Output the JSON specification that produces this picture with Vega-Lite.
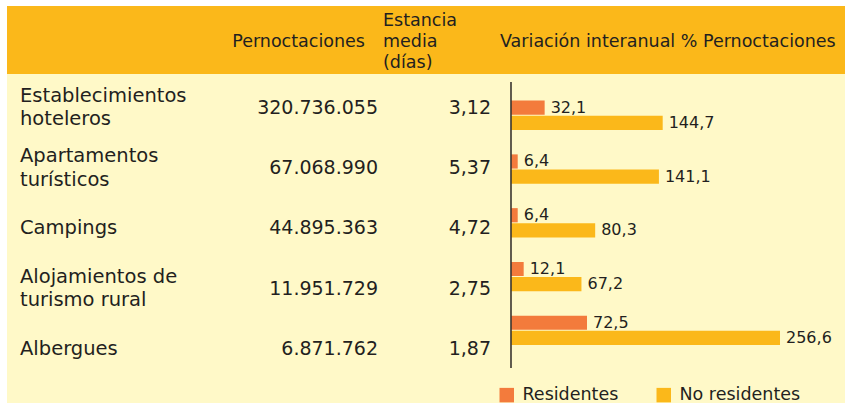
{
  "$schema": "https://vega.github.io/schema/vega-lite/v6.json",
  "background": "white",
  "padding": {"left": 7, "top": 6, "right": 0, "bottom": 0},
  "spacing": 0,
  "resolve": {"legend": {"color": "independent"}},
  "config": {
    "view": {"stroke": null},
    "font": "DejaVu Sans",
    "text": {"font": "DejaVu Sans", "color": "#231f20"},
    "locale": {"number": {"decimal": ",", "thousands": ".", "grouping": [3], "currency": ["", " €"]}},
    "concat": {"spacing": 0}
  },
  "datasets": {
    "tipos": [
      {"tipo": "Establecimientos\nhoteleros", "pernoctaciones": 320736055, "estancia": 3.12},
      {"tipo": "Apartamentos\nturísticos", "pernoctaciones": 67068990, "estancia": 5.37},
      {"tipo": "Campings", "pernoctaciones": 44895363, "estancia": 4.72},
      {"tipo": "Alojamientos de\nturismo rural", "pernoctaciones": 11951729, "estancia": 2.75},
      {"tipo": "Albergues", "pernoctaciones": 6871762, "estancia": 1.87}
    ],
    "variacion": [
      {"tipo": "Establecimientos\nhoteleros", "serie": "Residentes", "variacion": 32.1},
      {"tipo": "Establecimientos\nhoteleros", "serie": "No residentes", "variacion": 144.7},
      {"tipo": "Apartamentos\nturísticos", "serie": "Residentes", "variacion": 6.4},
      {"tipo": "Apartamentos\nturísticos", "serie": "No residentes", "variacion": 141.1},
      {"tipo": "Campings", "serie": "Residentes", "variacion": 6.4},
      {"tipo": "Campings", "serie": "No residentes", "variacion": 80.3},
      {"tipo": "Alojamientos de\nturismo rural", "serie": "Residentes", "variacion": 12.1},
      {"tipo": "Alojamientos de\nturismo rural", "serie": "No residentes", "variacion": 67.2},
      {"tipo": "Albergues", "serie": "Residentes", "variacion": 72.5},
      {"tipo": "Albergues", "serie": "No residentes", "variacion": 256.6}
    ],
    "cabecera": [
      {"col": "p", "h": "Pernoctaciones"},
      {"col": "e", "h": "Estancia\nmedia\n(días)"},
      {"col": "v", "h": "Variación interanual % Pernoctaciones"}
    ]
  },
  "vconcat": [
    {
      "spacing": 0,
      "bounds": "flush",
      "hconcat": [
        {
          "width": 371, "height": 68,
          "view": {"fill": "#FBB81A", "stroke": null},
          "data": {"name": "cabecera"},
          "transform": [{"filter": "datum.col == 'p'"}],
          "mark": {"type": "text", "align": "right", "baseline": "middle", "fontSize": 17.5, "dx": -13, "dy": 2},
          "encoding": {
            "x": {"value": "width"},
            "y": {"field": "col", "type": "nominal", "axis": null, "scale": {"type": "band", "paddingInner": 0, "paddingOuter": 0}},
            "text": {"field": "h"}
          }
        },
        {
          "width": 117, "height": 68,
          "view": {"fill": "#FBB81A", "stroke": null},
          "data": {"name": "cabecera"},
          "transform": [{"filter": "datum.col == 'e'"}],
          "mark": {"type": "text", "align": "left", "baseline": "middle", "fontSize": 17.5, "dx": 5, "dy": -19, "lineBreak": "\n", "lineHeight": 21},
          "encoding": {
            "x": {"value": 0},
            "y": {"field": "col", "type": "nominal", "axis": null, "scale": {"type": "band", "paddingInner": 0, "paddingOuter": 0}},
            "text": {"field": "h"}
          }
        },
        {
          "width": 350, "height": 68,
          "view": {"fill": "#FBB81A", "stroke": null},
          "data": {"name": "cabecera"},
          "transform": [{"filter": "datum.col == 'v'"}],
          "mark": {"type": "text", "align": "left", "baseline": "middle", "fontSize": 17.5, "dx": 5, "dy": 2},
          "encoding": {
            "x": {"value": 0},
            "y": {"field": "col", "type": "nominal", "axis": null, "scale": {"type": "band", "paddingInner": 0, "paddingOuter": 0}},
            "text": {"field": "h"}
          }
        }
      ]
    },
    {
      "spacing": 0,
      "bounds": "flush",
      "resolve": {"legend": {"color": "independent"}},
      "hconcat": [
        {
          "width": 218, "height": 329,
          "view": {"fill": "#FFF9C8", "stroke": null},
          "data": {"name": "tipos"},
          "encoding": {
            "x": {"value": 0},
            "y": {"field": "tipo", "type": "nominal", "sort": null, "axis": null,
                  "scale": {"type": "band", "paddingInner": 0, "paddingOuter": 0.2235, "align": 0.126,
                            "domain": ["Establecimientos\nhoteleros", "Apartamentos\nturísticos", "Campings", "Alojamientos de\nturismo rural", "Albergues"]}},
            "text": {"field": "tipo"}
          },
          "layer": [
            {
              "transform": [{"filter": {"not": {"field": "tipo", "oneOf": ["Campings", "Albergues"]}}}],
              "mark": {"type": "text", "align": "left", "baseline": "middle", "fontSize": 19.5, "dx": 13, "dy": -11.6, "lineBreak": "\n", "lineHeight": 23.3}
            },
            {
              "transform": [{"filter": {"field": "tipo", "oneOf": ["Campings", "Albergues"]}}],
              "mark": {"type": "text", "align": "left", "baseline": "middle", "fontSize": 19.5, "dx": 13}
            }
          ]
        },
        {
          "width": 153, "height": 329,
          "view": {"fill": "#FFF9C8", "stroke": null},
          "data": {"name": "tipos"},
          "mark": {"type": "text", "align": "right", "baseline": "middle", "fontSize": 19},
          "encoding": {
            "x": {"value": "width"},
            "y": {"field": "tipo", "type": "nominal", "sort": null, "axis": null,
                  "scale": {"type": "band", "paddingInner": 0, "paddingOuter": 0.2235, "align": 0.126}},
            "text": {"field": "pernoctaciones", "type": "quantitative", "format": ",.0f"}
          }
        },
        {
          "width": 117, "height": 329,
          "view": {"fill": "#FFF9C8", "stroke": null},
          "data": {"name": "tipos"},
          "mark": {"type": "text", "align": "right", "baseline": "middle", "fontSize": 19, "dx": -4},
          "encoding": {
            "x": {"value": "width"},
            "y": {"field": "tipo", "type": "nominal", "sort": null, "axis": null,
                  "scale": {"type": "band", "paddingInner": 0, "paddingOuter": 0.2235, "align": 0.126}},
            "text": {"field": "estancia", "type": "quantitative", "format": ".2f"}
          }
        },
        {
          "width": 350, "height": 329,
          "view": {"fill": "#FFF9C8", "stroke": null},
          "data": {"name": "variacion"},
          "encoding": {
            "y": {"field": "tipo", "type": "nominal", "axis": null,
                  "scale": {"type": "band", "paddingInner": 0, "paddingOuter": 0.56, "align": 0.24,
                            "domain": ["Establecimientos\nhoteleros", "Apartamentos\nturísticos", "Campings", "Alojamientos de\nturismo rural", "Albergues"]}}
          },
          "layer": [
            {
              "mark": {"type": "bar"},
              "encoding": {
                "x": {"field": "variacion", "type": "quantitative", "axis": null,
                      "scale": {"domain": [-15.26, 318.6], "nice": false, "zero": false}},
                "yOffset": {"field": "serie", "type": "nominal",
                            "scale": {"domain": ["Residentes", "No residentes"], "paddingInner": 0.0667, "paddingOuter": 0.8}},
                "color": {"field": "serie", "type": "nominal",
                          "scale": {"domain": ["Residentes", "No residentes"], "range": ["#F37B3C", "#FBB81A"]},
                          "legend": {"title": null, "orient": "bottom-left", "direction": "horizontal",
                                     "symbolType": "square", "symbolSize": 210, "symbolStrokeWidth": 0, "symbolOpacity": 1,
                                     "labelFontSize": 17.5, "labelFont": "DejaVu Sans", "labelColor": "#231f20",
                                     "labelOffset": 7, "columnPadding": 32, "offset": -1, "symbolOffset": 4, "padding": 0}}
              }
            },
            {
              "mark": {"type": "text", "align": "left", "baseline": "middle", "fontSize": 16, "dx": 6},
              "encoding": {
                "x": {"field": "variacion", "type": "quantitative"},
                "yOffset": {"field": "serie", "type": "nominal"},
                "text": {"field": "variacion", "type": "quantitative", "format": ".1f"}
              }
            },
            {
              "data": {"values": [{"cero": 0}]},
              "mark": {"type": "rule", "color": "#3a3530", "strokeWidth": 1.6},
              "encoding": {
                "x": {"field": "cero", "type": "quantitative"},
                "y": {"datum": "Establecimientos\nhoteleros", "bandPosition": -0.12},
                "y2": {"datum": "Albergues", "bandPosition": 1.2}
              }
            }
          ]
        }
      ]
    }
  ]
}
